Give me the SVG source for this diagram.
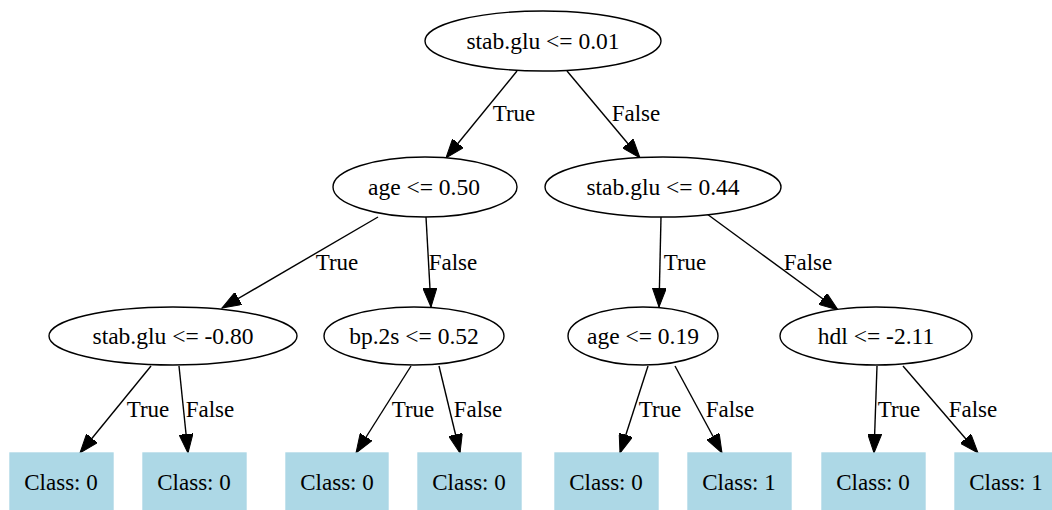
<svg xmlns="http://www.w3.org/2000/svg" width="1052" height="510" viewBox="0 0 1052 510">
  <style>
    .n ellipse { fill: #ffffff; stroke: #000000; stroke-width: 1.4; }
    .leaf rect { fill: #add8e6; stroke: #add8e6; stroke-width: 1.4; }
    text { font-family: "Liberation Serif", "Times New Roman", serif; font-size: 23px; fill: #000000; }
    .n text { font-size: 23.5px; }
    .c { text-anchor: middle; }
    #edges line { stroke: #000000; stroke-width: 1.4; marker-end: url(#arrow); }
  </style>
  <defs>
    <marker id="arrow" markerUnits="userSpaceOnUse" markerWidth="20" markerHeight="14" refX="19" refY="7" orient="auto">
      <path d="M0,0 L19,7 L0,14 Z" fill="#000000" stroke="#000000" stroke-width="1"/>
    </marker>
  </defs>
  <rect width="1052" height="510" fill="#ffffff"/>

  <!-- connectors -->
  <g id="edges">
    <line x1="517" y1="71" x2="446" y2="158"/>
    <line x1="567" y1="71" x2="640" y2="158"/>
    <line x1="378" y1="217" x2="222" y2="308"/>
    <line x1="426" y1="217" x2="431" y2="307"/>
    <line x1="661" y1="217" x2="659" y2="307"/>
    <line x1="707" y1="214" x2="838" y2="310"/>
    <line x1="151" y1="366" x2="80" y2="453"/>
    <line x1="179" y1="366" x2="188" y2="453"/>
    <line x1="411" y1="366" x2="356" y2="453"/>
    <line x1="439" y1="366" x2="460" y2="453"/>
    <line x1="648" y1="366" x2="620" y2="453"/>
    <line x1="675" y1="366" x2="722" y2="453"/>
    <line x1="877" y1="366" x2="874" y2="453"/>
    <line x1="903" y1="366" x2="978" y2="453"/>
    <text x="514" y="121" class="c">True</text>
    <text x="636" y="121" class="c">False</text>
    <text x="337" y="270" class="c">True</text>
    <text x="453" y="270" class="c">False</text>
    <text x="685" y="270" class="c">True</text>
    <text x="808" y="270" class="c">False</text>
    <text x="148" y="417" class="c">True</text>
    <text x="210" y="417" class="c">False</text>
    <text x="413" y="417" class="c">True</text>
    <text x="478" y="417" class="c">False</text>
    <text x="660" y="417" class="c">True</text>
    <text x="730" y="417" class="c">False</text>
    <text x="899" y="417" class="c">True</text>
    <text x="973" y="417" class="c">False</text>
  </g>

  <!-- decision nodes -->
  <g id="n0" class="n"><ellipse cx="543" cy="41" rx="118" ry="30"/><text x="543" y="49" class="c">stab.glu &lt;= 0.01</text></g>
  <g id="n1" class="n"><ellipse cx="425" cy="187" rx="92" ry="30"/><text x="424" y="195" class="c">age &lt;= 0.50</text></g>
  <g id="n2" class="n"><ellipse cx="663" cy="187" rx="118" ry="30"/><text x="663" y="195" class="c">stab.glu &lt;= 0.44</text></g>
  <g id="n3" class="n"><ellipse cx="173" cy="336" rx="124" ry="29"/><text x="173" y="344" class="c">stab.glu &lt;= -0.80</text></g>
  <g id="n4" class="n"><ellipse cx="414" cy="336" rx="90" ry="29"/><text x="414" y="344" class="c">bp.2s &lt;= 0.52</text></g>
  <g id="n5" class="n"><ellipse cx="643" cy="336" rx="75" ry="29"/><text x="643" y="344" class="c">age &lt;= 0.19</text></g>
  <g id="n6" class="n"><ellipse cx="876" cy="336" rx="96" ry="29"/><text x="876" y="344" class="c">hdl &lt;= -2.11</text></g>

  <!-- leaf nodes -->
  <g id="l1" class="leaf"><rect x="10" y="453" width="103" height="60"/><text x="61" y="490" class="c">Class: 0</text></g>
  <g id="l2" class="leaf"><rect x="143" y="453" width="103" height="60"/><text x="194" y="490" class="c">Class: 0</text></g>
  <g id="l3" class="leaf"><rect x="286" y="453" width="102" height="60"/><text x="337" y="490" class="c">Class: 0</text></g>
  <g id="l4" class="leaf"><rect x="418" y="453" width="103" height="60"/><text x="469" y="490" class="c">Class: 0</text></g>
  <g id="l5" class="leaf"><rect x="555" y="453" width="103" height="60"/><text x="606" y="490" class="c">Class: 0</text></g>
  <g id="l6" class="leaf"><rect x="688" y="453" width="103" height="60"/><text x="739" y="490" class="c">Class: 1</text></g>
  <g id="l7" class="leaf"><rect x="822" y="453" width="103" height="60"/><text x="873" y="490" class="c">Class: 0</text></g>
  <g id="l8" class="leaf"><rect x="955" y="453" width="103" height="60"/><text x="1006" y="490" class="c">Class: 1</text></g>
</svg>
